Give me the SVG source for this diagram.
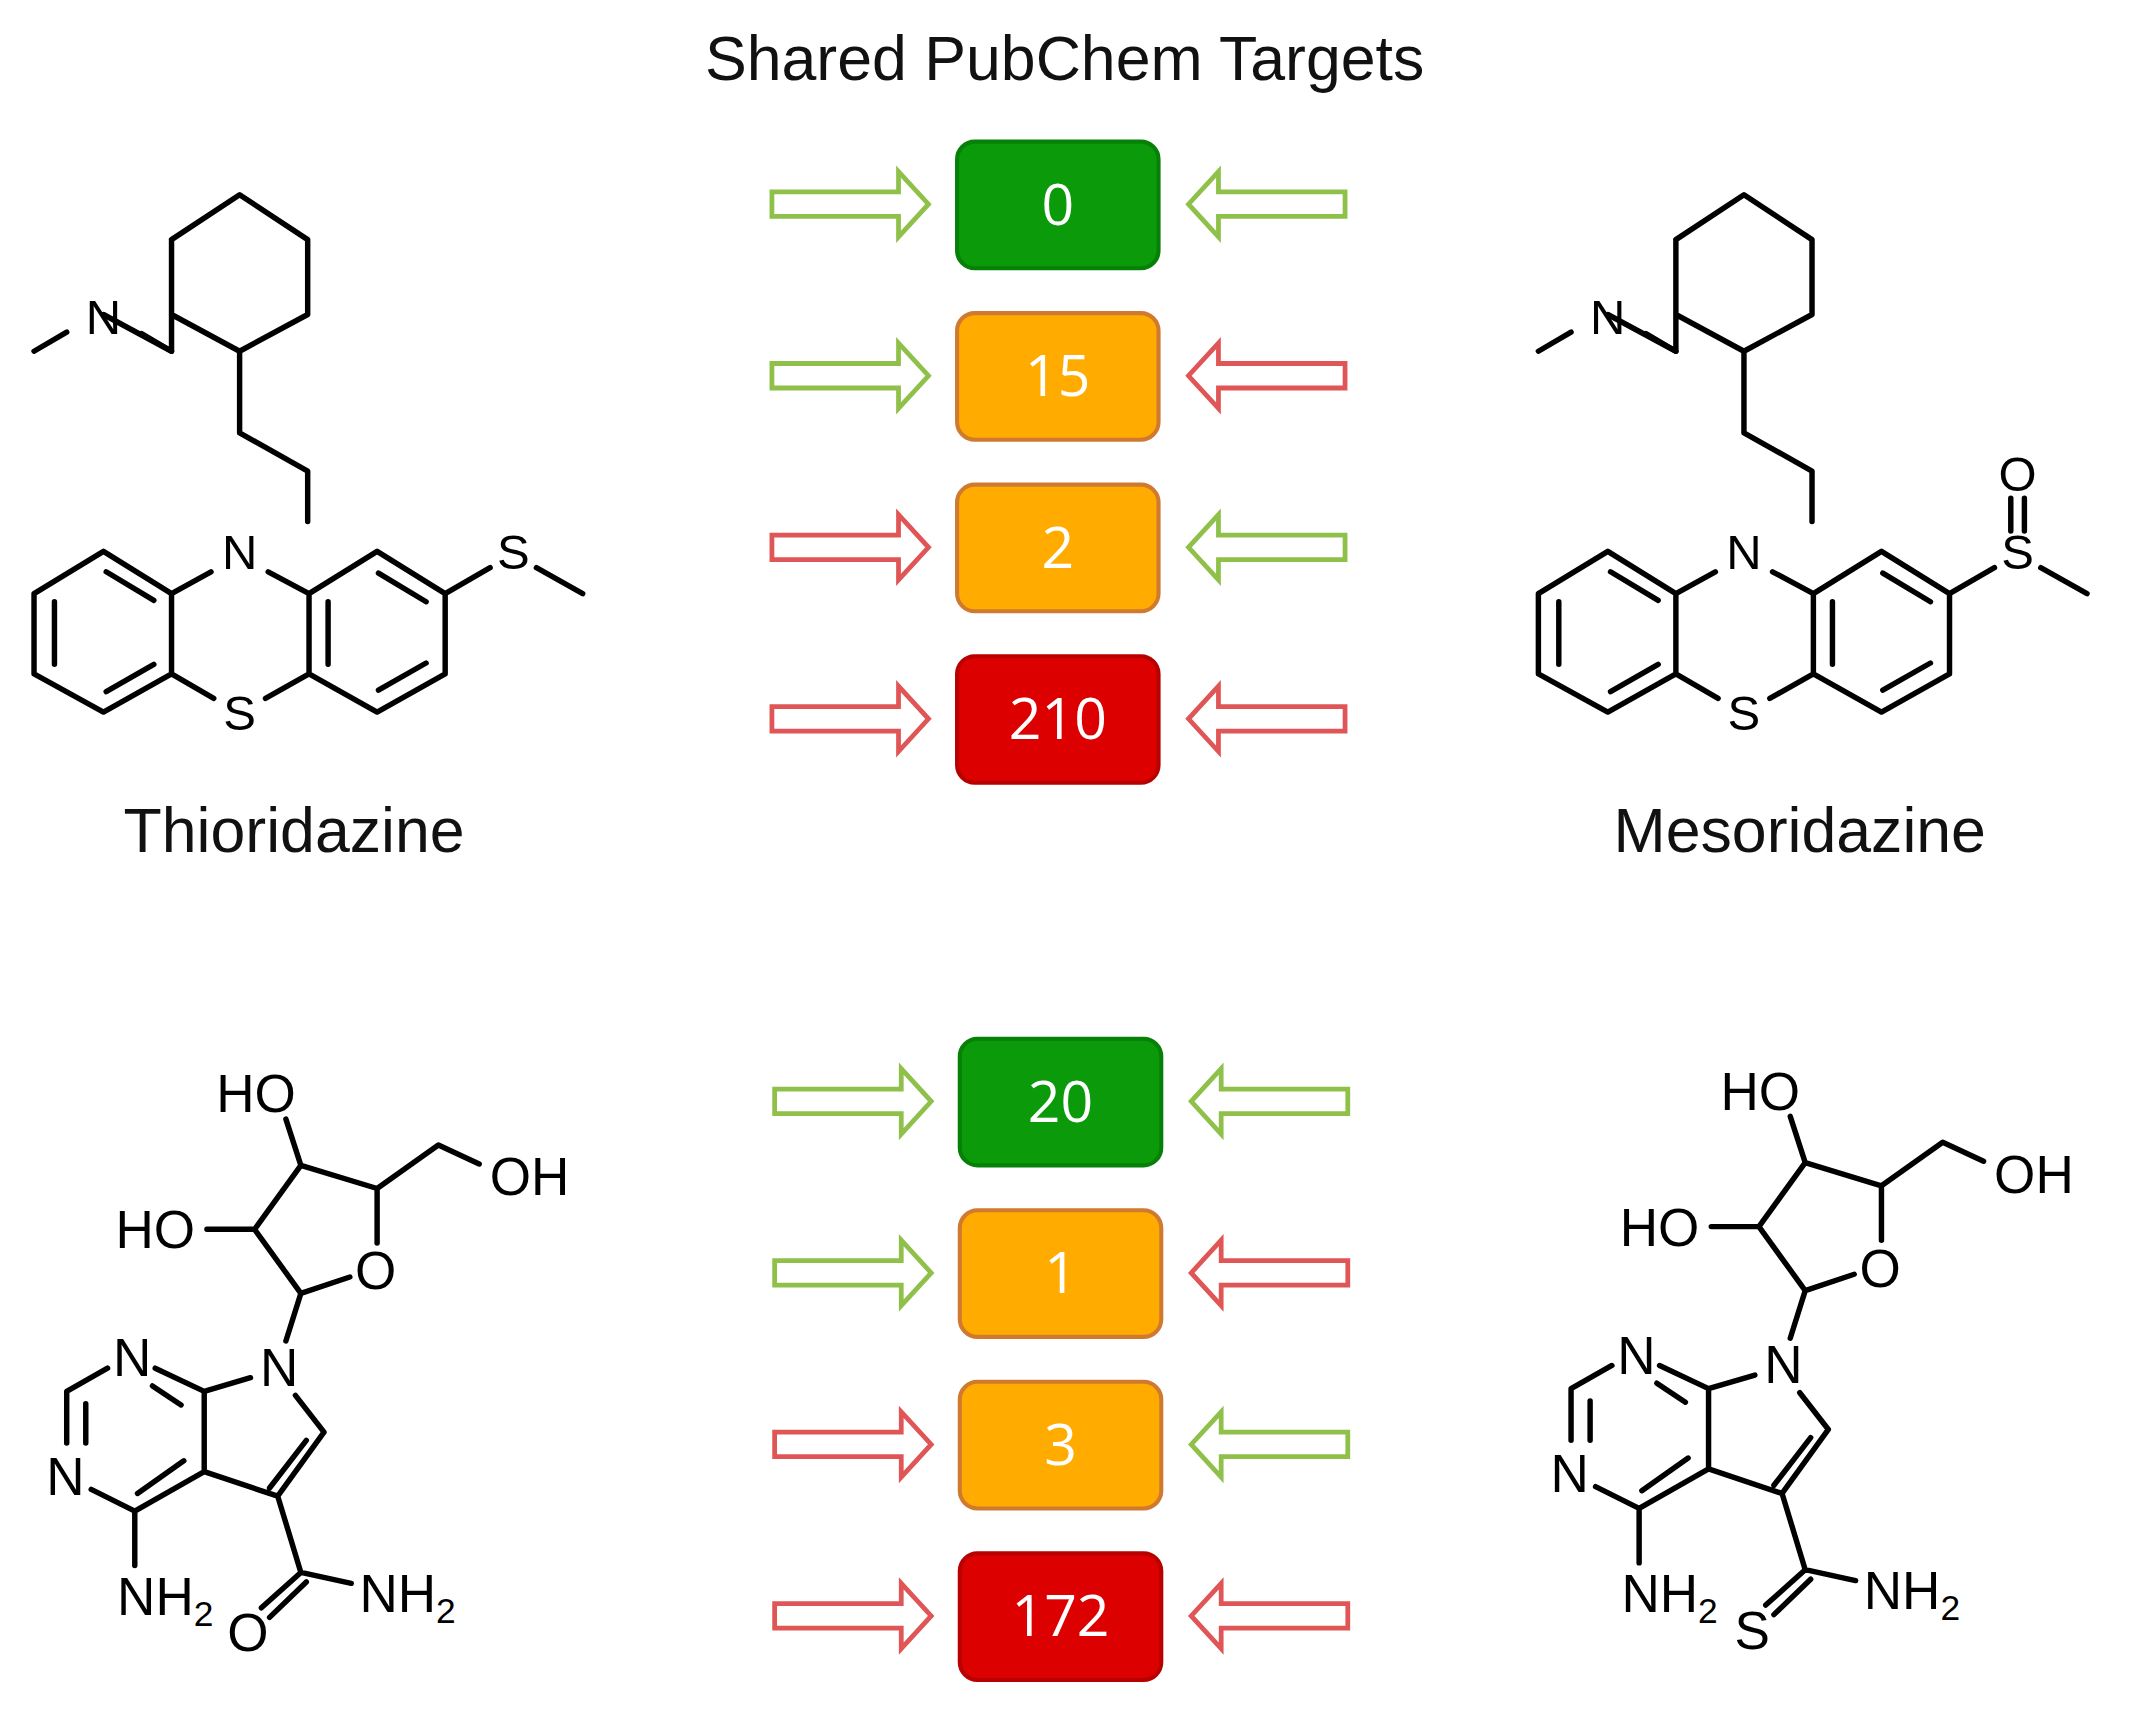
<svg xmlns="http://www.w3.org/2000/svg" width="2132" height="1717" viewBox="0 0 2132 1717">
<defs>
<style>
.b{fill:none;stroke:#000;stroke-width:4;stroke-linecap:round;stroke-linejoin:round}
.a{font-family:"Liberation Sans",Arial,sans-serif;fill:#000;text-anchor:middle}
.t{font-family:"Liberation Sans",Arial,sans-serif;font-size:46px;fill:#111;text-anchor:middle}
.n{font-family:"Open Sans","Liberation Sans",sans-serif;font-size:42px;fill:#fff;text-anchor:middle}
.g{fill:#fff;stroke:#8fc04a;stroke-width:3.5}
.r{fill:#fff;stroke:#e05555;stroke-width:3.5}
.bg{fill:#0a9a0a;stroke:#078007;stroke-width:3}
.bo{fill:#ffab00;stroke:#d07a30;stroke-width:3}
.br{fill:#dc0000;stroke:#b80000;stroke-width:3}
.sub{font-size:26px}
</style>
<path id="ar" d="M0,-9 H93 V-24 L115,0 L93,24 V9 H0 Z"/>
<path id="al" d="M115,-9 H22 V-24 L0,0 L22,24 V9 H115 Z"/>
<g id="phen">
<path class="b" d="M126,176 V258 L76,231 M126,176 L176,143 L226,176 V231 L176,258 L126,231 M176,258 V318 L226,346 V383"/>
<path class="b" d="M197,420 L227,436 L277,405 L327,436 L327,495 L277,523 L227,495 L227,436 M227,495 L195,513 M157,513 L126,495 L126,436 L155,420 M126,436 L76,405 L25,436 L25,495 L76,523 L126,495 M40,442 V488 M78,420 L113,441 M78,508 L113,488 M241,442 V488 M278,421 L313,442 M278,507 L313,487 M327,436 L360,417"/>
<path class="b" d="M126,258 L104,245 M49,244 L25,258"/>
</g>
</defs>
<rect width="2132" height="1717" fill="#fff"/>
<g transform="scale(1.3614)">
<text class="t" x="782" y="59">Shared PubChem Targets</text>

<g id="thioridazine">
<use href="#phen"/>
<text class="a" x="76" y="245" font-size="36">N</text>
<text class="a" x="176" y="418" font-size="36">N</text>
<text class="a" x="176" y="536" font-size="36">S</text>
<text class="a" x="377" y="418" font-size="36">S</text>
<path class="b" d="M394,417 L428,436"/>
<text class="t" x="216" y="626">Thioridazine</text>
</g>

<g id="mesoridazine">
<use href="#phen" x="1105"/>
<text class="a" x="1181" y="245" font-size="36">N</text>
<text class="a" x="1281" y="418" font-size="36">N</text>
<text class="a" x="1281" y="536" font-size="36">S</text>
<text class="a" x="1482" y="418" font-size="36">S</text>
<text class="a" x="1482" y="361" font-size="36">O</text>
<path class="b" d="M1499,417 L1533,436 M1477,366 V390 M1487,366 V390"/>
<text class="t" x="1322" y="626">Mesoridazine</text>
</g>

<g id="mol3">
<path class="b" d="M210,822 L221,856 L277,873 L322,841 L352,855 M277,873 V913 M257,938 L221,950 L187,903 L221,856 M187,903 H152 M221,950 L210,985 M184,1012 L150,1022 V1081 L204,1099 L238,1052 L217,1025 M225,1058 L198,1093 M204,1099 L221,1155 L258,1163 M221,1155 L192,1181 M225,1162 L198,1188 M150,1022 L114,1005 M112,1018 L133,1032 M79,1005 L49,1022 V1060 M63,1031 V1060 M67,1094 L99,1110 L150,1081 M101,1097 L135,1073 M99,1110 V1150"/>
<text class="a" x="188" y="817" font-size="39">HO</text>
<text class="a" x="114" y="917" font-size="39">HO</text>
<text class="a" x="389" y="878" font-size="39">OH</text>
<text class="a" x="276" y="947" font-size="39">O</text>
<text class="a" x="205" y="1018" font-size="39">N</text>
<text class="a" x="97" y="1011" font-size="39">N</text>
<text class="a" x="48" y="1098" font-size="39">N</text>
<text class="a" x="182" y="1213" font-size="39">O</text>
<text class="a" x="86" y="1186" font-size="39" text-anchor="start" style="text-anchor:start">NH<tspan class="sub" dy="8">2</tspan></text>
<text class="a" x="264" y="1184" font-size="39" style="text-anchor:start">NH<tspan class="sub" dy="8">2</tspan></text>
</g>

<g id="mol4" transform="translate(1105,-2)">
<path class="b" d="M210,822 L221,856 L277,873 L322,841 L352,855 M277,873 V913 M257,938 L221,950 L187,903 L221,856 M187,903 H152 M221,950 L210,985 M184,1012 L150,1022 V1081 L204,1099 L238,1052 L217,1025 M225,1058 L198,1093 M204,1099 L221,1155 L258,1163 M221,1155 L192,1181 M225,1162 L198,1188 M150,1022 L114,1005 M112,1018 L133,1032 M79,1005 L49,1022 V1060 M63,1031 V1060 M67,1094 L99,1110 L150,1081 M101,1097 L135,1073 M99,1110 V1150"/>
<text class="a" x="188" y="817" font-size="39">HO</text>
<text class="a" x="114" y="917" font-size="39">HO</text>
<text class="a" x="389" y="878" font-size="39">OH</text>
<text class="a" x="276" y="947" font-size="39">O</text>
<text class="a" x="205" y="1018" font-size="39">N</text>
<text class="a" x="97" y="1011" font-size="39">N</text>
<text class="a" x="48" y="1098" font-size="39">N</text>
<text class="a" x="182" y="1213" font-size="39">S</text>
<text class="a" x="86" y="1186" font-size="39" style="text-anchor:start">NH<tspan class="sub" dy="8">2</tspan></text>
<text class="a" x="264" y="1184" font-size="39" style="text-anchor:start">NH<tspan class="sub" dy="8">2</tspan></text>
</g>

<g id="connectors">
<use href="#ar" class="g" x="567" y="150"/>
<use href="#ar" class="g" x="567" y="276"/>
<use href="#ar" class="r" x="567" y="402"/>
<use href="#ar" class="r" x="567" y="528"/>
<use href="#al" class="g" x="873" y="150"/>
<use href="#al" class="r" x="873" y="276"/>
<use href="#al" class="g" x="873" y="402"/>
<use href="#al" class="r" x="873" y="528"/>
<use href="#ar" class="g" x="569" y="809"/>
<use href="#ar" class="g" x="569" y="935"/>
<use href="#ar" class="r" x="569" y="1061"/>
<use href="#ar" class="r" x="569" y="1187"/>
<use href="#al" class="g" x="875" y="809"/>
<use href="#al" class="r" x="875" y="935"/>
<use href="#al" class="g" x="875" y="1061"/>
<use href="#al" class="r" x="875" y="1187"/>
</g>

<g id="box0"><rect class="bg" x="703" y="104" width="148" height="93" rx="13"/><text class="n" x="777" y="165">0</text></g>
<g id="box15"><rect class="bo" x="703" y="230" width="148" height="93" rx="13"/><text class="n" x="777" y="291">15</text></g>
<g id="box2"><rect class="bo" x="703" y="356" width="148" height="93" rx="13"/><text class="n" x="777" y="417">2</text></g>
<g id="box210"><rect class="br" x="703" y="482" width="148" height="93" rx="13"/><text class="n" x="777" y="543">210</text></g>
<g id="box20"><rect class="bg" x="705" y="763" width="148" height="93" rx="13"/><text class="n" x="779" y="824">20</text></g>
<g id="box1"><rect class="bo" x="705" y="889" width="148" height="93" rx="13"/><text class="n" x="779" y="950">1</text></g>
<g id="box3"><rect class="bo" x="705" y="1015" width="148" height="93" rx="13"/><text class="n" x="779" y="1076">3</text></g>
<g id="box172"><rect class="br" x="705" y="1141" width="148" height="93" rx="13"/><text class="n" x="779" y="1202">172</text></g>
</g>
</svg>
